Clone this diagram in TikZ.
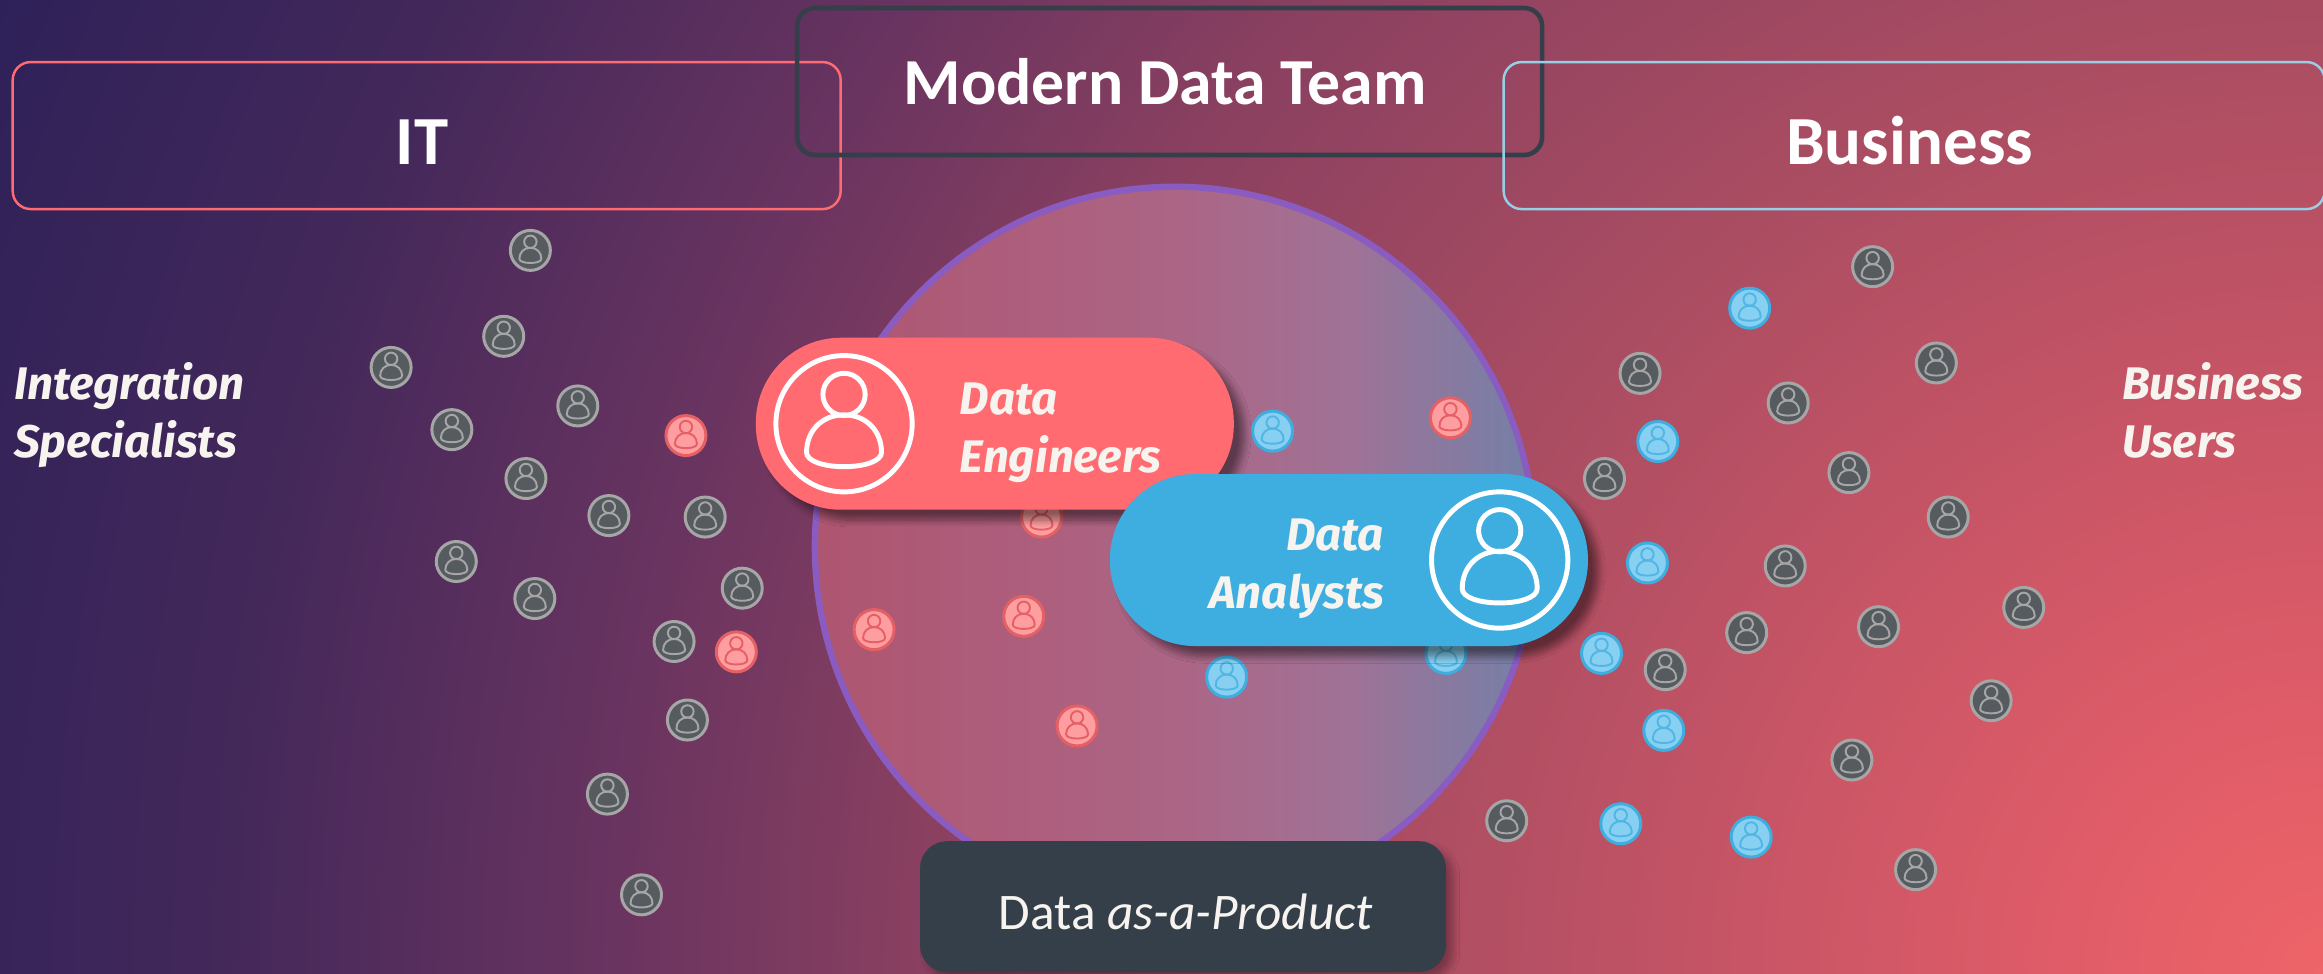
\documentclass[tikz,border=0pt]{standalone}
\usepackage{fontspec}
\setmainfont{Carlito}
\newfontfamily\pillfont{Fira Sans}
\usetikzlibrary{
    positioning,
    calc,
    shadows,
    shadows.blur
}
\definecolor{teamRed}{HTML}{FF6B70}
\definecolor{teamBlue}{HTML}{3EAEE0}
\definecolor{teamSky}{HTML}{96CFE6}
\definecolor{teamSlate}{HTML}{343F4A}
\definecolor{teamPurple}{HTML}{8A5BC0}
\definecolor{teamPaper}{HTML}{F7F3EE}
\definecolor{iconGray}{HTML}{565B60}
\definecolor{iconRed}{HTML}{FF9EA0}
\definecolor{iconBlue}{HTML}{88D0F2}
\definecolor{bgA}{HTML}{EE6468}
\definecolor{bgB}{HTML}{DD5B68}
\definecolor{bgC}{HTML}{A84C62}
\definecolor{bgD}{HTML}{8A4060}
\definecolor{bgE}{HTML}{6A3460}
\definecolor{bgF}{HTML}{43285A}
\definecolor{bgG}{HTML}{2E2159}
\definecolor{ciA}{HTML}{AE5570}
\definecolor{ciB}{HTML}{AC6585}
\definecolor{ciC}{HTML}{A07296}
\definecolor{ciD}{HTML}{7480A8}
% background, growing out of the bottom right corner
\pgfdeclareradialshading{bgShade}{\pgfpoint{0bp}{0bp}}{
    color(0bp)=(bgA);
    color(3bp)=(bgB);
    color(9.66bp)=(bgC);
    color(13.9bp)=(bgD);
    color(16.9bp)=(bgE);
    color(20.85bp)=(bgF);
    color(25bp)=(bgG);
    color(50bp)=(bgG)
}
% the large circle in the middle
\pgfdeclarehorizontalshading{circleShade}{100bp}{
    color(0bp)=(ciA);
    color(25bp)=(ciA);
    color(50bp)=(ciB);
    color(62bp)=(ciC);
    color(75bp)=(ciD);
    color(100bp)=(ciD)
}
\tikzset{
    % frames along the top
    topbox/.style={
        rectangle,
        rounded corners=0.18cm,
        minimum height=1.47cm,
        text height=0.58cm,
        text depth=0pt,
        font=\bfseries\fontsize{19.6}{24}\selectfont,
        execute at end node={\hspace{0.09cm}},
        text=white
    },
    % pills with a role
    pill/.style={
        rectangle,
        rounded corners=0.85cm,
        minimum width=4.78cm,
        minimum height=1.72cm,
        blur shadow={shadow blur steps=8, shadow xshift=3pt, shadow yshift=-3pt, shadow opacity=45}
    },
    % italic labels
    rolelabel/.style={
        font=\pillfont\bfseries\itshape\fontsize{13}{16.5}\selectfont,
        text=teamPaper,
        inner sep=0pt
    },
    % line work of one person
    person/.pic={
        \draw[pic actions] (0,0) circle (1);
        \draw[person line] (0,0.43) circle (0.31);
        \draw[person line] (0,0.13)
            .. controls (0.32,0.13) and (0.55,-0.1) .. (0.55,-0.42)
            .. controls (0.55,-0.55) and (0.3,-0.63) .. (0,-0.63)
            .. controls (-0.3,-0.63) and (-0.55,-0.55) .. (-0.55,-0.42)
            .. controls (-0.55,-0.1) and (-0.32,0.13) .. (0,0.13) -- cycle;
    },
    person line/.style={draw=white, line width=1.4pt},
    small/.style={scale=13.5, yscale=-1, line width=0.85pt, person line/.append style={line width=0.55pt}},
    grayperson/.style={small, draw=gray!70, fill=iconGray, person line/.append style={draw=gray!70}},
    redperson/.style={small, draw=teamRed!90!black, fill=iconRed, person line/.append style={draw=teamRed!90!black}},
    blueperson/.style={small, draw=teamBlue, fill=iconBlue, person line/.append style={draw=teamBlue!90}},
    bigperson/.style={scale=46, yscale=-1, draw=white, line width=1.4pt}
}
\begin{document}
\begin{tikzpicture}[x=0.014815cm, y=-0.014815cm]
    \useasboundingbox (0,0) rectangle (1568,657);

    % background
    \begin{scope}
        \clip (0,0) rectangle (1568,657);
        \shade[shading=bgShade] (1568,657) circle (1700);
    \end{scope}

    % large circle
    \node[circle, shade, shading=circleShade, draw=teamPurple, line width=1.8pt,
        minimum size=7.2cm] (team) at (793,369) {};

    % people
    \foreach \x/\y in {358/169, 340/227, 264/248, 390/274, 305/290, 355/323, 411/348, 476/349,
        308/379, 361/404, 501/397, 455/433, 464/486, 410/536, 433/604,
        1264/180, 1307/245, 1107/252, 1207/272, 1083/323, 1248/319, 1315/349, 1205/382,
        1366/410, 1268/423, 1179/427, 1124/452, 1344/473, 1250/513, 1017/554, 1293/587}
        \pic[grayperson] at (\x,\y) {person};
    \foreach \x/\y in {463/294, 497/440, 590/425, 691/416, 727/490, 703/349, 979/282}
        \pic[redperson] at (\x,\y) {person};
    \foreach \x/\y in {859/291, 828/457, 976/441, 1181/208, 1119/298, 1112/380, 1081/441,
        1123/493, 1094/556, 1182/565}
        \pic[blueperson] at (\x,\y) {person};

    % frames along the top
    \node[topbox, draw=teamRed, line width=0.7pt, minimum width=8.28cm] (it) at (288,91.5) {IT};
    \node[topbox, draw=teamSlate, line width=1.3pt, minimum width=7.45cm, text height=0.46cm,
        font=\bfseries\fontsize{18.7}{24}\selectfont] (modern) at (789.5,55) {Modern Data Team};
    \node[topbox, draw=teamSky, line width=0.7pt, minimum width=8.21cm] (business) at (1292,91.5) {Business};

    % side labels
    \node[rolelabel, align=left, anchor=west] (integration) at (9,280) {Integration\\Specialists};
    \node[rolelabel, align=left, anchor=west] (users) at (1432,277) {Business\\Users};

    % Data Engineers
    \node[pill, fill=teamRed] (engineers) at (671.5,286) {};
    \pic[bigperson] at ($(engineers.west)+(60,0)$) {person};
    \node[rolelabel, align=left, right=2.04cm of engineers.west, yshift=-0.09cm] (engineersLabel) {Data\\Engineers};

    % Data Analysts
    \node[pill, fill=teamBlue] (analysts) at (910.5,378) {};
    \pic[bigperson] at ($(analysts.east)+(-60,0)$) {person};
    \node[rolelabel, align=right, left=2.04cm of analysts.east, yshift=-0.09cm] (analystsLabel) {Data\\Analysts};

    % product box
    \node[rectangle, rounded corners=0.27cm, fill=teamSlate, minimum width=5.26cm, minimum height=1.31cm,
        text=teamPaper, font=\fontsize{14.6}{18}\selectfont, text height=0.46cm, text depth=0pt,
        blur shadow={shadow blur steps=8, shadow xshift=2pt, shadow yshift=-2pt, shadow opacity=30}]
        (product) at (798.5,612) {\hspace*{0.06cm}Data \textit{as-a-Product}};
\end{tikzpicture}
\end{document}
